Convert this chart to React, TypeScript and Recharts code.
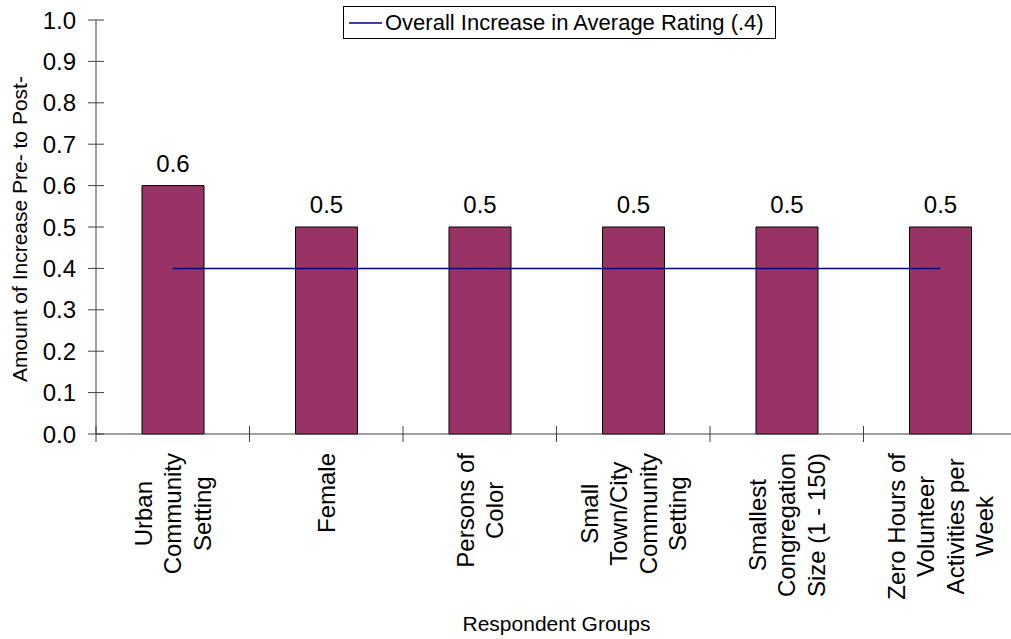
import React from 'react'
import {
  ComposedChart,
  Bar,
  Line,
  XAxis,
  YAxis,
  Legend,
  Label,
  LabelList,
} from 'recharts'

const categories = [
  'Urban Community Setting',
  'Female',
  'Persons of Color',
  'Small Town/City Community Setting',
  'Smallest Congregation Size (1 - 150)',
  'Zero Hours of Volunteer Activities per Week',
]

const categoryLines = [
  ['Urban', 'Community', 'Setting'],
  ['Female'],
  ['Persons of', 'Color'],
  ['Small', 'Town/City', 'Community', 'Setting'],
  ['Smallest', 'Congregation', 'Size (1 - 150)'],
  ['Zero Hours of', 'Volunteer', 'Activities per', 'Week'],
]

const groupIncrease = [0.6, 0.5, 0.5, 0.5, 0.5, 0.5]
const overallIncrease = [0.4, 0.4, 0.4, 0.4, 0.4, 0.4]
const yTicks = [0, 0.1, 0.2, 0.3, 0.4, 0.5, 0.6, 0.7, 0.8, 0.9, 1.0]

const data = categories.map((name, i) => ({
  name,
  increase: groupIncrease[i],
  overall: overallIncrease[i],
}))

const FONT = '"Liberation Sans", Arial, sans-serif'
const AXIS = '#404040'

let ctx: CanvasRenderingContext2D | null = null
function textWidth(s: string, size: number) {
  if (!ctx) ctx = document.createElement('canvas').getContext('2d')
  if (!ctx) return s.length * size * 0.5
  ctx.font = `${size}px "Liberation Sans"`
  return ctx.measureText(s).width
}

function CategoryTick(props: any) {
  const { x, y, payload, index } = props
  const idx = categories.indexOf(payload.value)
  const lines = categoryLines[idx >= 0 ? idx : index] || [String(payload.value)]
  const half = payload.offset || 0
  const maxW = Math.max(...lines.map((t: string) => textWidth(t, 24)))
  const n = lines.length
  return (
    <g>
      {idx === 0 && (
        <line x1={x - half} x2={x - half} y1={y - 8} y2={y + 8} stroke={AXIS} />
      )}
      <line x1={x + half} x2={x + half} y1={y - 8} y2={y + 8} stroke={AXIS} />
      <g transform={`translate(${x},${y + 19}) rotate(-90)`}>
        {lines.map((t: string, i: number) => (
          <text
            key={t}
            x={-maxW / 2}
            y={(i - (n - 1) / 2) * 29.5 + 8.6}
            textAnchor="middle"
            fontSize={24}
            fontFamily={FONT}
            fill="#000"
          >
            {t}
          </text>
        ))}
      </g>
    </g>
  )
}

function ValueTick(props: any) {
  const { x, y, payload } = props
  const ax = x + 20
  return (
    <g>
      <line x1={ax - 8} x2={ax + 8} y1={y} y2={y} stroke={AXIS} />
      <text x={x} y={y} dy={8.5} textAnchor="end" fontSize={24} fontFamily={FONT} fill="#000">
        {Number(payload.value).toFixed(1)}
      </text>
    </g>
  )
}

function LegendBox({ payload }: any) {
  const items = (payload || []).filter((p: any) => p.type !== 'none')
  return (
    <div
      style={{
        border: '1px solid #000',
        height: 33,
        width: 433,
        boxSizing: 'border-box',
        display: 'flex',
        alignItems: 'center',
        paddingLeft: 5,
        background: '#fff',
        fontFamily: FONT,
      }}
    >
      {items.map((p: any) => (
        <React.Fragment key={p.value}>
          <svg width={33} height={4} style={{ display: 'block' }}>
            <line x1={0} x2={33} y1={2} y2={2} stroke={p.color} strokeWidth={1.5} />
          </svg>
          <span style={{ fontSize: 22, color: '#000', marginLeft: 3, whiteSpace: 'nowrap' }}>
            {p.value}
          </span>
        </React.Fragment>
      ))}
    </div>
  )
}

function YTitle({ viewBox }: any) {
  const cy = (viewBox?.y ?? 20) + (viewBox?.height ?? 414) / 2 + 2
  return (
    <text
      transform={`translate(27,${cy}) rotate(-90)`}
      textAnchor="middle"
      fontSize={21}
      fontFamily={FONT}
      fill="#000"
    >
      Amount of Increase Pre- to Post-
    </text>
  )
}

export default function App() {
  return (
    <div
      style={{
        position: 'absolute',
        left: 0,
        top: 0,
        width: 1011,
        height: 639,
        overflow: 'hidden',
        background: '#fff',
      }}
    >
      <ComposedChart
        width={1040}
        height={639}
        data={data}
        margin={{ top: 20, right: 23, left: 0, bottom: 0 }}
      >
        <XAxis
          dataKey="name"
          interval={0}
          height={205}
          tickLine={false}
          tickSize={0}
          tickMargin={0}
          axisLine={{ stroke: AXIS }}
          tick={<CategoryTick />}
        >
          <Label
            value="Respondent Groups"
            position="insideBottom"
            offset={8}
            fontSize={21}
            fontFamily={FONT}
            fill="#000"
          />
        </XAxis>
        <YAxis
          domain={[0, 1]}
          ticks={yTicks}
          width={96}
          tickLine={false}
          tickSize={8}
          tickMargin={12}
          axisLine={{ stroke: AXIS }}
          tick={<ValueTick />}
          interval={0}
        >
          <Label content={<YTitle />} />
        </YAxis>
        <Legend
          layout="vertical"
          align="center"
          verticalAlign="middle"
          wrapperStyle={{ top: 6, left: 343, width: 433, right: 'auto', bottom: 'auto' }}
          content={<LegendBox />}
        />
        <Bar
          dataKey="increase"
          barSize={62}
          fill="#993366"
          stroke="#000"
          strokeWidth={1}
          legendType="none"
          isAnimationActive={false}
        >
          <LabelList
            dataKey="increase"
            position="top"
            offset={14}
            fontSize={24}
            fontFamily={FONT}
            fill="#000"
            formatter={(v: any) => Number(v).toFixed(1)}
          />
        </Bar>
        <Line
          dataKey="overall"
          name="Overall Increase in Average Rating (.4)"
          stroke="#000080"
          strokeWidth={1.5}
          dot={false}
          activeDot={false}
          type="linear"
          isAnimationActive={false}
        />
      </ComposedChart>
    </div>
  )
}
